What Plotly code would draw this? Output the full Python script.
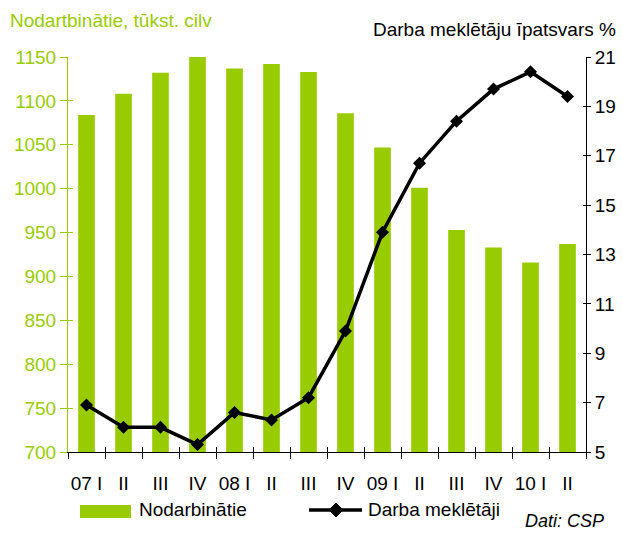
import plotly.graph_objects as go

quarters = ["07 I", "II", "III", "IV", "08 I", "II", "III", "IV",
            "09 I", "II", "III", "IV", "10 I", "II"]
employed = [1084, 1108, 1132, 1150, 1137, 1142, 1133, 1086,
            1047, 1001, 953, 933, 916, 937]
jobseekers = [6.9, 6.0, 6.0, 5.3, 6.6, 6.3, 7.2, 9.9,
              13.9, 16.7, 18.4, 19.7, 20.4, 19.4]
left_ticks = [700, 750, 800, 850, 900, 950, 1000, 1050, 1100, 1150]
right_ticks = [5, 7, 9, 11, 13, 15, 17, 19, 21]

GREEN = "#99CC00"
FONT = "Arial, Liberation Sans, sans-serif"
FS = 19
xs = list(range(len(quarters)))
boundaries = [i - 0.5 for i in range(len(quarters) + 1)]
XR = [-0.5, len(quarters) - 0.5]
YR = [700, 1150]
Y2R = [5, 21]

W, H = 623, 533
ML, MR, MT, MB = 68, 37, 57, 81

fig = go.Figure()
fig.add_trace(go.Bar(x=xs, y=employed, marker=dict(color=GREEN, line=dict(width=0)),
                     name="Nodarbinātie", showlegend=False, hoverinfo="skip"))
fig.add_trace(go.Scatter(x=xs, y=jobseekers, yaxis="y2", mode="lines+markers",
                         line=dict(color="black", width=3.5),
                         marker=dict(symbol="diamond", size=10, color="black"),
                         name="Darba meklētāji", showlegend=False, hoverinfo="skip"))
# empty helper traces so that the tick-only overlay axes are drawn
fig.add_trace(go.Scatter(x=[], y=[], xaxis="x2", yaxis="y3", showlegend=False))
fig.add_trace(go.Scatter(x=[], y=[], xaxis="x2", yaxis="y4", showlegend=False))

common = dict(showgrid=False, zeroline=False, automargin=False)
fig.update_layout(
    width=W, height=H,
    margin=dict(l=ML, r=MR, t=MT, b=MB, autoexpand=False),
    paper_bgcolor="white", plot_bgcolor="white",
    font=dict(family=FONT, size=FS, color="black"),
    bargap=0.55,
    xaxis=dict(range=XR, tickmode="array", tickvals=xs, ticktext=quarters,
               ticks="", showline=True, linecolor="black", linewidth=1,
               ticklabelstandoff=14, tickfont=dict(size=FS, color="black"),
               minor=dict(tickmode="array", tickvals=boundaries, ticks="outside",
                          ticklen=6, tickcolor="black", showgrid=False), **common),
    xaxis2=dict(range=XR, overlaying="x", anchor="y", side="bottom",
                tickmode="array", tickvals=boundaries, ticks="inside", ticklen=5,
                tickcolor="black", showticklabels=False, showline=False, **common),
    yaxis=dict(range=YR, tickmode="array", tickvals=left_ticks, showline=True,
               linecolor=GREEN, linewidth=1, ticks="outside", ticklen=7,
               tickcolor=GREEN, tickfont=dict(size=FS, color=GREEN), **common),
    yaxis2=dict(range=Y2R, overlaying="y", side="right", anchor="x",
                tickmode="array", tickvals=right_ticks, showline=True,
                linecolor="black", linewidth=1, ticks="outside", ticklen=4,
                tickcolor="black", tickfont=dict(size=FS, color="black"), **common),
    yaxis3=dict(range=YR, overlaying="y", side="left", anchor="x2",
                tickmode="array", tickvals=left_ticks, ticks="inside", ticklen=5,
                tickcolor=GREEN, showticklabels=False, showline=False, **common),
    yaxis4=dict(range=Y2R, overlaying="y", side="right", anchor="x2",
                tickmode="array", tickvals=right_ticks, ticks="inside", ticklen=3,
                tickcolor="black", showticklabels=False, showline=False, **common),
)

def px(x):
    return (x - ML) / (W - ML - MR)

def py(y):
    return (H - MB - y) / (H - MT - MB)

annotations = [
    dict(text="Nodartbinātie, tūkst. cilv", x=8, y=21, xanchor="left",
         font=dict(size=FS, color=GREEN)),
    dict(text="Darba meklētāju īpatsvars %", x=618, y=29, xanchor="right",
         font=dict(size=FS, color="black")),
    dict(text="Nodarbinātie", x=137, y=510, xanchor="left",
         font=dict(size=FS, color="black")),
    dict(text="Darba meklētāji", x=366, y=510, xanchor="left",
         font=dict(size=FS, color="black")),
    dict(text="<i>Dati: CSP</i>", x=606, y=521, xanchor="right",
         font=dict(size=18, color="black")),
]
for a in annotations:
    a["x"] = px(a["x"])
    a["y"] = py(a["y"])
    a.update(xref="paper", yref="paper", showarrow=False, yanchor="middle")
fig.update_layout(annotations=annotations)

# Legend symbols
fig.add_shape(type="rect", xref="paper", yref="paper", x0=px(80), x1=px(131),
              y0=py(518), y1=py(505), fillcolor=GREEN, line=dict(width=0))
fig.add_shape(type="line", xref="paper", yref="paper", x0=px(309), x1=px(362),
              y0=py(510), y1=py(510), line=dict(color="black", width=3.5))
fig.add_shape(type="path", xref="paper", yref="paper",
              path=f"M {px(329)} {py(510)} L {px(336)} {py(503)} L {px(343)} {py(510)} L {px(336)} {py(517)} Z",
              fillcolor="black", line=dict(color="black", width=1))

fig.write_html("out.html", config={"displayModeBar": False})

# Remove the browser's default body margin so the figure fills the window exactly
with open("out.html", "r", encoding="utf-8") as f:
    html = f.read()
html = html.replace("<body>", '<body style="margin:0;padding:0;overflow:hidden">', 1)
with open("out.html", "w", encoding="utf-8") as f:
    f.write(html)
